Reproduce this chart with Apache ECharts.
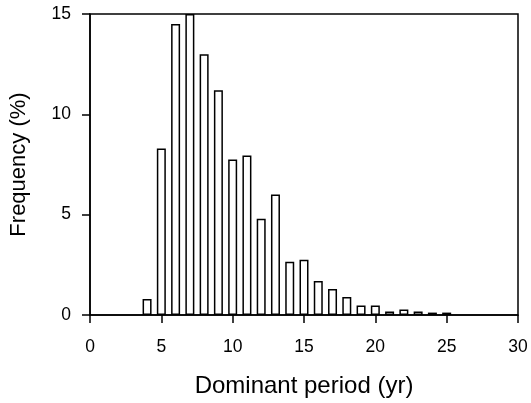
<!DOCTYPE html>
<html><head><meta charset="utf-8">
<script src="https://cdn.jsdelivr.net/npm/echarts@6/dist/echarts.min.js"></script>
<style>html,body{margin:0;padding:0;background:#fff}#c{width:531px;height:403px}</style>
</head><body><div id="c"></div>
<script>
const periods = [4,5,6,7,8,9,10,11,12,13,14,15,16,17,18,19,20,21,22,23,24,25];
const frequency = [0.8,8.3,14.5,15.0,13.0,11.2,7.75,7.95,4.8,6.0,2.65,2.75,1.7,1.3,0.9,0.47,0.47,0.17,0.28,0.18,0.12,0.12];
const xTicks = [0,5,10,15,20,25,30];
const yTicks = [0,5,10,15];

const chart = echarts.init(document.getElementById('c'));
const font = 'Liberation Sans, Arial, sans-serif';
chart.setOption({
  animation:false,
  grid:{left:87,right:13,top:14,bottom:88,show:true,borderColor:'#000',borderWidth:1.5,backgroundColor:'#fff'},
  xAxis:{type:'value',min:0,max:30,interval:5,
    name:'Dominant period (yr)',nameLocation:'middle',nameGap:59,
    nameTextStyle:{fontFamily:font,fontSize:24,color:'#000'},
    axisLine:{show:true,lineStyle:{color:'#000',width:1.5}},
    axisTick:{show:true,length:8,inside:false,lineStyle:{color:'#000',width:1.5}},
    axisLabel:{fontFamily:font,fontSize:17.5,color:'#000',margin:23},
    splitLine:{show:false}},
  yAxis:{type:'value',min:0,max:15,interval:5,
    name:'Frequency (%)',nameLocation:'middle',nameGap:60,
    nameTextStyle:{fontFamily:font,fontSize:22,color:'#000'},
    axisLine:{show:true,lineStyle:{color:'#000',width:1.5}},
    axisTick:{show:true,length:8,lineStyle:{color:'#000',width:1.5}},
    axisLabel:{fontFamily:font,fontSize:17.5,color:'#000',margin:19},
    splitLine:{show:false}},
  series:[{type:'bar',barWidth:9,
    data:periods.map((p,i)=>[p,frequency[i]]),
    itemStyle:{color:'#fff',borderColor:'#000',borderWidth:1.5}}]
});
</script></body></html>
